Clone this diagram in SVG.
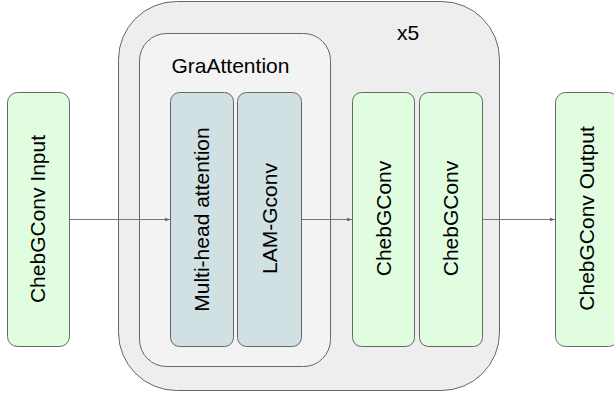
<svg xmlns="http://www.w3.org/2000/svg" width="614" height="393" viewBox="0 0 614 393">
  <defs>
    <marker id="arr" markerWidth="6" markerHeight="5" refX="5.5" refY="2.5" orient="auto" markerUnits="userSpaceOnUse">
      <path d="M0,0.5 L5.5,2.5 L0,4.5 Z" fill="#666"/>
    </marker>
  </defs>
  <style>
    text { font-family: "Liberation Sans", Arial, sans-serif; font-size: 21px; fill: #000; }
    .outer { fill: #eeeeee; stroke: #666; stroke-width: 1; }
    .inner { fill: #f3f3f3; stroke: #666; stroke-width: 1; }
    .green { fill: #e0fde0; stroke: #666; stroke-width: 1; }
    .blue { fill: #d0e0e3; stroke: #666; stroke-width: 1; }
    .conn { stroke: #777; stroke-width: 1; fill: none; marker-end: url(#arr); }
    .vt { text-anchor: middle; }
  </style>
  <g id="block-x5">
    <rect class="outer" x="118.5" y="1.5" width="381" height="389" rx="58" ry="58"/>
    <text x="397" y="40">x5</text>
  </g>
  <g id="graattention">
    <rect class="inner" x="139.5" y="33.5" width="191" height="333" rx="27" ry="27"/>
    <text x="171.5" y="73">GraAttention</text>
  </g>
  <g id="input">
    <rect class="green" x="7.5" y="92.5" width="62" height="254" rx="10" ry="10"/>
    <text class="vt" transform="translate(45,219) rotate(-90)">ChebGConv Input</text>
  </g>
  <g id="multihead">
    <rect class="blue" x="170.5" y="92.5" width="63" height="254" rx="9" ry="9"/>
    <text class="vt" transform="translate(209,219.5) rotate(-90)">Multi-head attention</text>
  </g>
  <g id="lamgconv">
    <rect class="blue" x="237.5" y="92.5" width="64" height="254" rx="9" ry="9"/>
    <text class="vt" transform="translate(276.5,218.5) rotate(-90)">LAM-Gconv</text>
  </g>
  <g id="cheb1">
    <rect class="green" x="352.5" y="92.5" width="62" height="254" rx="9" ry="9"/>
    <text class="vt" transform="translate(390.5,218.5) rotate(-90)">ChebGConv</text>
  </g>
  <g id="cheb2">
    <rect class="green" x="419.5" y="92.5" width="63" height="254" rx="9" ry="9"/>
    <text class="vt" transform="translate(458,218.5) rotate(-90)">ChebGConv</text>
  </g>
  <g id="output">
    <rect class="green" x="555.5" y="92.5" width="63" height="254" rx="10" ry="10"/>
    <text class="vt" transform="translate(593.5,218.5) rotate(-90)">ChebGConv Output</text>
  </g>
  <g id="connectors">
    <line class="conn" x1="70" y1="219.5" x2="170" y2="219.5"/>
    <line class="conn" x1="302" y1="219.5" x2="352" y2="219.5"/>
    <line class="conn" x1="483" y1="219.5" x2="555" y2="219.5"/>
  </g>
</svg>
